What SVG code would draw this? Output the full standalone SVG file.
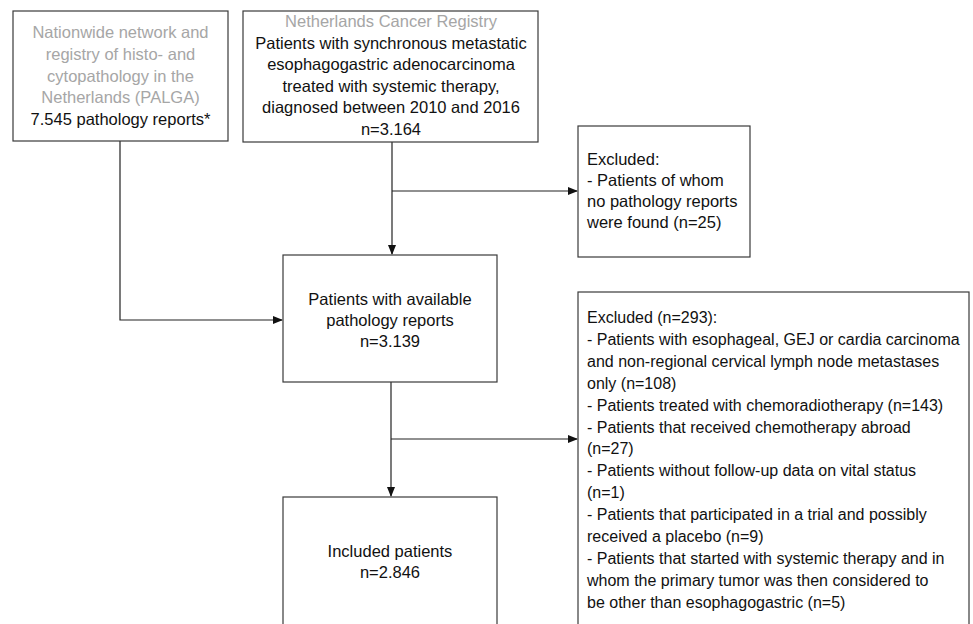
<svg xmlns="http://www.w3.org/2000/svg" width="973" height="624" viewBox="0 0 973 624">
<defs>
<style>
.box{fill:#fff;stroke:#3a3a3a;stroke-width:1.2}
text{font-family:"Liberation Sans",Arial,sans-serif;font-size:16.5px;fill:#111}
.s{font-size:16px}
.c{text-anchor:middle}
.g{fill:#a6a6a6}
.ln{fill:none;stroke:#222;stroke-width:1.2}
</style>
<marker id="ah" markerWidth="10" markerHeight="8" refX="9" refY="4" orient="auto" markerUnits="userSpaceOnUse">
<path d="M0,0 L10,4 L0,8 Z" fill="#111"/>
</marker>
</defs>
<rect width="973" height="624" fill="#fff"/>
<g id="connectors">
<path class="ln" d="M120,141 V320 H282" marker-end="url(#ah)"/>
<path class="ln" d="M392,142 V254" marker-end="url(#ah)"/>
<path class="ln" d="M392,191 H577" marker-end="url(#ah)"/>
<path class="ln" d="M391,382 V496" marker-end="url(#ah)"/>
<path class="ln" d="M391,439 H577" marker-end="url(#ah)"/>
</g>
<g id="palga">
<rect class="box" x="13" y="11" width="215" height="130"/>
<text class="c g" x="120.5" y="38">Nationwide network and</text>
<text class="c g" x="120.5" y="60">registry of histo- and</text>
<text class="c g" x="120.5" y="82">cytopathology in the</text>
<text class="c g" x="120.5" y="103">Netherlands (PALGA)</text>
<text class="c" x="120.5" y="125">7.545 pathology reports*</text>
</g>
<g id="ncr">
<rect class="box" x="243" y="11" width="295" height="131"/>
<text class="c g" x="391" y="27">Netherlands Cancer Registry</text>
<text class="c" x="391" y="49">Patients with synchronous metastatic</text>
<text class="c" x="391" y="70">esophagogastric adenocarcinoma</text>
<text class="c" x="391" y="92">treated with systemic therapy,</text>
<text class="c" x="391" y="113">diagnosed between 2010 and 2016</text>
<text class="c" x="391" y="135">n=3.164</text>
</g>
<g id="excluded1">
<rect class="box" x="578" y="126" width="172" height="131"/>
<text x="587" y="165">Excluded:</text>
<text x="587" y="186">- Patients of whom</text>
<text x="587" y="207">no pathology reports</text>
<text x="587" y="228">were found (n=25)</text>
</g>
<g id="available">
<rect class="box" x="283" y="255" width="214" height="127"/>
<text class="c" x="390" y="305">Patients with available</text>
<text class="c" x="390" y="326">pathology reports</text>
<text class="c" x="390" y="347">n=3.139</text>
</g>
<g id="excluded2">
<rect class="box" x="578" y="292" width="391" height="345"/>
<text class="s" x="587" y="323">Excluded (n=293):</text>
<text class="s" x="587" y="344.9">- Patients with esophageal, GEJ or cardia carcinoma</text>
<text class="s" x="587" y="366.8">and non-regional cervical lymph node metastases</text>
<text class="s" x="587" y="388.7">only (n=108)</text>
<text class="s" x="587" y="410.6">- Patients treated with chemoradiotherapy (n=143)</text>
<text class="s" x="587" y="432.5">- Patients that received chemotherapy abroad</text>
<text class="s" x="587" y="454.4">(n=27)</text>
<text class="s" x="587" y="476.3">- Patients without follow-up data on vital status</text>
<text class="s" x="587" y="498.2">(n=1)</text>
<text class="s" x="587" y="520.1">- Patients that participated in a trial and possibly</text>
<text class="s" x="587" y="542">received a placebo (n=9)</text>
<text class="s" x="587" y="563.9">- Patients that started with systemic therapy and in</text>
<text class="s" x="587" y="585.8">whom the primary tumor was then considered to</text>
<text class="s" x="587" y="607.7">be other than esophagogastric (n=5)</text>
</g>
<g id="included">
<rect class="box" x="283" y="497" width="214" height="140"/>
<text class="c" x="390" y="557">Included patients</text>
<text class="c" x="390" y="578">n=2.846</text>
</g>
</svg>
